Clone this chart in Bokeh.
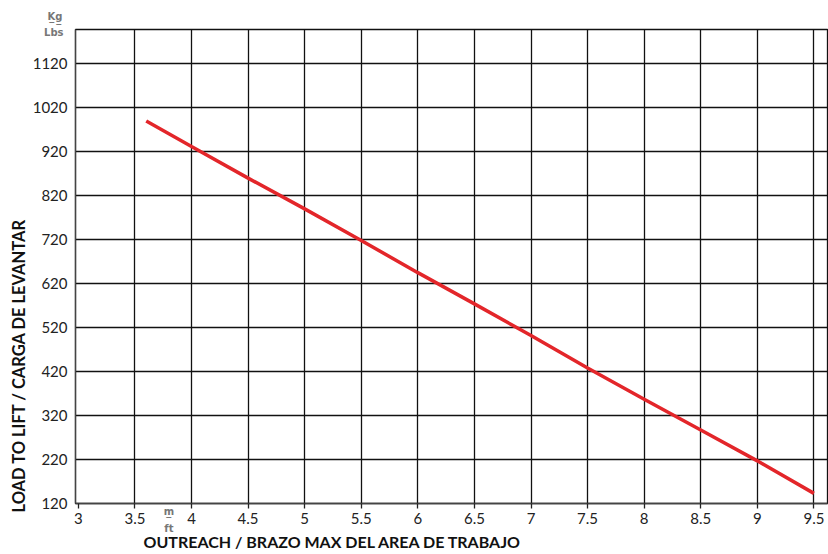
from bokeh.plotting import figure
from bokeh.models import FixedTicker, Range1d, Title, LinearAxis
from bokeh.embed import file_html
from bokeh.resources import INLINE

# data
outreach = [3.6, 4.0, 4.5, 5.0, 5.5, 6.0, 6.5, 7.0, 7.5, 8.0, 8.5, 9.0, 9.5]
load = [990, 932, 860, 790, 718, 645, 574, 502, 428, 357, 287, 217, 143]
x_ticks = [3, 3.5, 4, 4.5, 5, 5.5, 6, 6.5, 7, 7.5, 8, 8.5, 9, 9.5]
y_ticks = [120, 220, 320, 420, 520, 620, 720, 820, 920, 1020, 1120]
x_title = "OUTREACH / BRAZO MAX DEL AREA DE TRABAJO"
y_title = "LOAD TO LIFT / CARGA DE LEVANTAR"
x_unit_pos = [3.8]
x_unit_text = "m\u0332\nft"
y_unit_pos = [1192]
y_unit_text = "Lbs"
y_unit_top = "K\u0332g\u0332"

FONT = "Lato"
UNIT_FONT = "DejaVu Sans"

p = figure(width=828, height=554, output_backend="svg", toolbar_location=None,
           x_range=Range1d(2.975, 9.62), y_range=Range1d(120, 1198),
           min_border_left=75, min_border_right=1, min_border_top=29, min_border_bottom=51)

p.outline_line_color = "#111111"
p.outline_line_width = 1.3

p.xaxis.ticker = FixedTicker(ticks=x_ticks)
p.yaxis.ticker = FixedTicker(ticks=y_ticks)
for ax in (p.xaxis[0], p.yaxis[0]):
    ax.major_label_text_font = FONT
    ax.major_label_text_font_size = "15px"
    ax.major_label_text_color = "#222222"
    ax.minor_tick_line_color = None
    ax.axis_line_color = "#444444"
    ax.axis_line_width = 1.3
    ax.major_tick_line_color = "#222222"
    ax.major_tick_line_width = 1.3
p.xaxis.major_tick_out = 5
p.xaxis.major_tick_in = 0
p.xaxis.major_label_standoff = 4
p.yaxis.major_tick_out = 0
p.yaxis.major_tick_in = 0
p.yaxis.major_label_standoff = 8

p.xgrid.ticker = FixedTicker(ticks=x_ticks[1:])
p.ygrid.ticker = FixedTicker(ticks=y_ticks[1:])
for g in (p.xgrid[0], p.ygrid[0]):
    g.grid_line_color = "#111111"
    g.grid_line_width = 1.3
    g.grid_line_alpha = 1.0

p.line(outreach, load, line_color="#e3262a", line_width=3.5)

# axis titles (as side titles so they can sit off-centre like the original)
p.add_layout(Title(text=x_title, align="left", offset=68, text_font=FONT,
                   text_font_style="bold", text_font_size="16px", text_color="#111111",
                   standoff=6), "below")
p.add_layout(Title(text=y_title, align="left", offset=-9, text_font=FONT,
                   text_font_style="bold", text_font_size="16.5px", text_color="#111111",
                   standoff=1), "left")

unit_font = dict(major_label_text_font=UNIT_FONT, major_label_text_font_style="bold",
                 major_label_text_font_size="10px", major_label_text_color="#777777")

# unit marks
ux = LinearAxis(ticker=FixedTicker(ticks=x_unit_pos),
                major_label_overrides={x_unit_pos[0]: x_unit_text},
                major_label_text_line_height=1.6,
                axis_line_color=None, major_tick_line_color=None, minor_tick_line_color=None,
                major_tick_out=0, major_tick_in=0, major_label_standoff=-48, **unit_font)
p.add_layout(ux, "below")
uy = LinearAxis(ticker=FixedTicker(ticks=y_unit_pos),
                major_label_overrides={y_unit_pos[0]: y_unit_text},
                axis_line_color=None, major_tick_line_color=None, minor_tick_line_color=None,
                major_tick_out=0, major_tick_in=0, major_label_standoff=-57, **unit_font)
p.add_layout(uy, "left")
p.add_layout(Title(text=y_unit_top, align="left", offset=-28, vertical_align="top",
                   text_font=UNIT_FONT, text_font_style="bold", text_font_size="10px",
                   text_color="#777777", standoff=12), "above")

open("out.html", "w").write(file_html(p, INLINE))
